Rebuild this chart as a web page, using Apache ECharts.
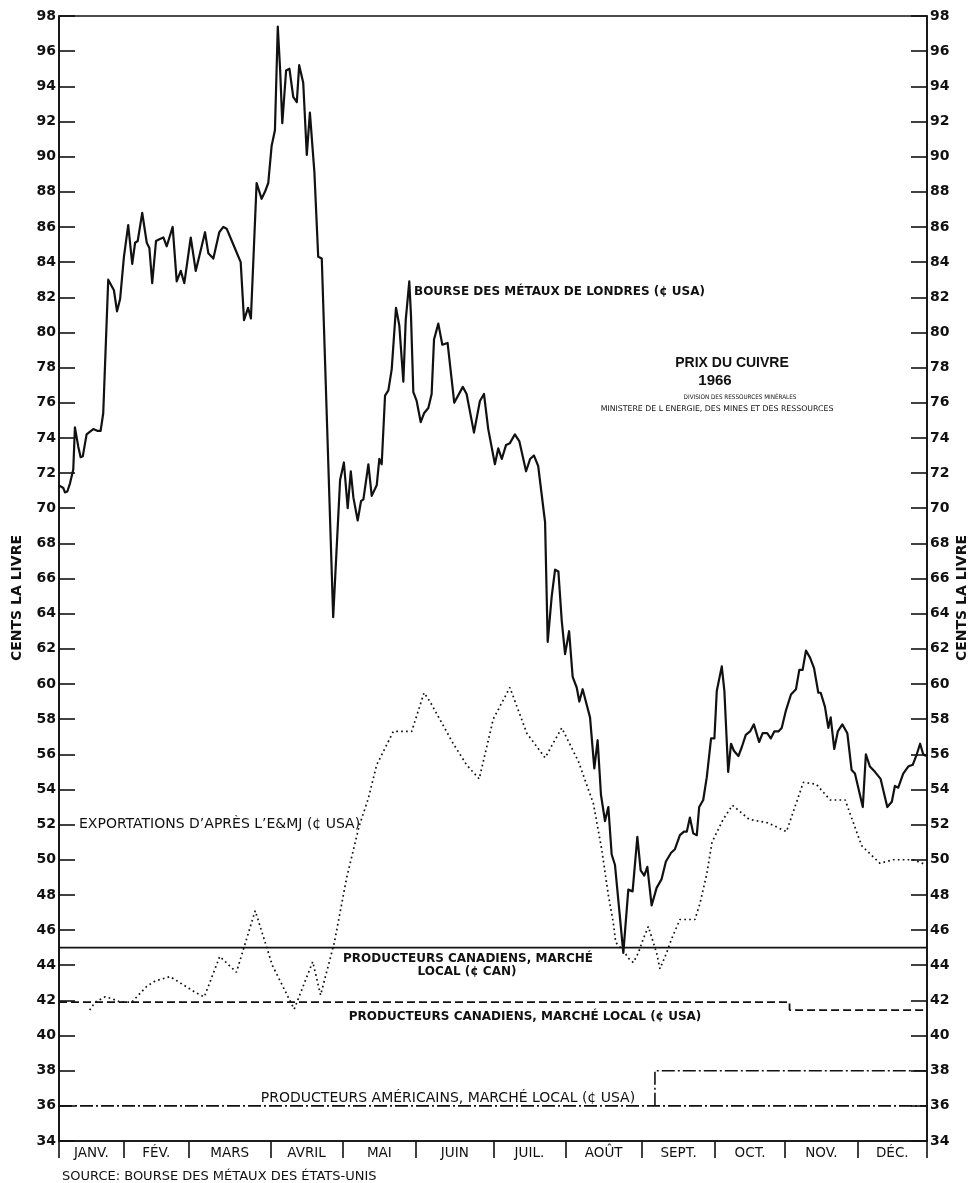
<!DOCTYPE html>
<html>
<head>
<meta charset="utf-8">
<title>Prix du cuivre 1966</title>
<script src="https://cdn.jsdelivr.net/npm/echarts@6/dist/echarts.min.js"></script>
<style>
  html, body { margin: 0; padding: 0; background: #fff; }
  #chart { width: 971px; height: 1183px; }
</style>
</head>
<body>
<div id="chart"></div>
<script>
// Month names and where each month division falls along the year (days)
const monthNames = ['JANV.', 'FÉV.', 'MARS', 'AVRIL', 'MAI', 'JUIN', 'JUIL.', 'AOÛT', 'SEPT.', 'OCT.', 'NOV.', 'DÉC.'];
const monthEdges = [0, 27.2, 54.6, 89.0, 119.2, 150.2, 182.7, 212.9, 245.2, 275.9, 305.3, 335.8, 365];

// Price axis (cents per pound)
const priceMin = 34;
const priceMax = 98;
const priceStep = 2;

// London Metal Exchange price, ¢ USA  [day, price]
const londonLme = [
  [0, 71.3], [1.8, 71.15], [2.5, 70.9], [3.5, 70.95], [4.6, 71.4], [6.0, 72.2], [6.7, 74.6], [8.1, 73.5],
  [9.1, 72.9], [10.0, 72.95], [11.6, 74.2], [14.4, 74.5], [16.1, 74.4], [17.5, 74.4], [18.6, 75.4],
  [20.7, 83.0], [23.1, 82.4], [24.4, 81.2], [25.7, 81.9], [27.3, 84.3], [29.1, 86.1], [30.8, 83.9],
  [32.0, 85.1], [33.1, 85.2], [35.0, 86.8], [36.9, 85.1], [38.0, 84.8], [39.2, 82.8], [40.8, 85.2],
  [42.2, 85.3], [43.9, 85.4], [45.3, 84.9], [47.8, 86.0], [49.5, 82.9], [51.2, 83.5], [52.7, 82.8],
  [55.4, 85.4], [57.5, 83.5], [59.3, 84.5], [61.4, 85.7], [62.8, 84.5], [64.9, 84.2], [67.4, 85.7],
  [69.1, 86.0], [70.5, 85.9], [73.3, 85.0], [76.4, 84.0], [77.8, 80.7], [79.5, 81.4], [80.7, 80.8],
  [83.1, 88.5], [85.2, 87.6], [86.6, 88.0], [88.0, 88.5], [89.4, 90.6], [90.8, 91.5], [92.0, 97.4],
  [93.0, 94.9], [93.9, 91.9], [95.5, 94.9], [96.9, 95.0], [98.5, 93.4], [100.0, 93.1], [101.0, 95.2],
  [102.7, 94.2], [104.2, 90.1], [105.5, 92.5], [107.4, 89.1], [109.0, 84.3], [110.5, 84.2],
  [115.3, 63.8], [118.2, 71.6], [119.8, 72.6], [121.4, 70.0], [122.7, 72.1], [123.8, 70.6],
  [125.6, 69.3], [127.0, 70.4], [128.0, 70.5], [130.1, 72.5], [131.5, 70.7], [133.6, 71.3],
  [134.7, 72.8], [135.7, 72.5], [137.1, 76.4], [138.5, 76.7], [139.9, 77.9], [141.7, 81.4],
  [143.1, 80.4], [144.8, 77.2], [145.8, 80.7], [147.3, 82.9], [148.0, 81.0], [149.0, 76.6],
  [150.4, 76.1], [152.1, 74.9], [153.5, 75.4], [155.3, 75.7], [156.7, 76.5], [157.7, 79.6],
  [159.5, 80.5], [161.2, 79.3], [163.4, 79.4], [166.2, 76.0], [169.8, 76.9], [171.4, 76.5],
  [174.5, 74.3], [177.0, 76.1], [178.7, 76.5], [180.5, 74.5], [183.3, 72.5], [184.7, 73.4],
  [186.2, 72.8], [188.0, 73.6], [189.6, 73.7], [191.7, 74.2], [193.6, 73.8], [196.4, 72.1],
  [198.1, 72.8], [199.7, 73.0], [201.5, 72.4], [204.4, 69.2], [205.5, 62.4], [207.2, 65.0],
  [208.6, 66.5], [210.0, 66.4], [211.4, 63.6], [212.8, 61.7], [214.5, 63.0], [216.0, 60.4],
  [217.7, 59.8], [218.8, 59.0], [220.2, 59.7], [223.3, 58.1], [225.1, 55.2], [226.5, 56.8],
  [227.9, 53.7], [229.6, 52.2], [231.0, 53.0], [232.4, 50.3], [233.8, 49.7], [237.3, 44.7],
  [239.4, 48.3], [241.2, 48.2], [243.2, 51.3], [244.6, 49.4], [246.1, 49.1], [247.4, 49.6],
  [249.2, 47.4], [251.3, 48.4], [253.4, 48.9], [255.2, 49.9], [257.4, 50.4], [259.0, 50.6],
  [261.1, 51.4], [262.8, 51.6], [264.0, 51.6], [265.3, 52.4], [266.7, 51.5], [268.2, 51.4],
  [269.2, 53.0], [270.9, 53.4], [272.4, 54.7], [274.2, 56.9], [275.6, 56.9], [276.6, 59.6],
  [278.7, 61.0], [279.8, 59.6], [281.4, 55.0], [282.6, 56.6], [283.8, 56.2], [285.7, 55.9],
  [287.1, 56.4], [288.8, 57.1], [290.6, 57.3], [292.2, 57.7], [294.4, 56.7], [295.9, 57.2],
  [297.8, 57.2], [299.3, 56.9], [300.8, 57.3], [302.5, 57.3], [303.9, 57.5], [305.7, 58.5],
  [307.8, 59.4], [309.9, 59.7], [311.3, 60.8], [312.7, 60.8], [314.1, 61.9], [315.8, 61.5],
  [317.5, 60.9], [319.3, 59.5], [320.3, 59.5], [322.1, 58.7], [323.5, 57.5], [324.5, 58.1],
  [326.0, 56.3], [327.5, 57.3], [329.4, 57.7], [331.5, 57.2], [333.3, 55.1], [334.7, 54.9],
  [338.0, 53.0], [339.3, 56.0], [341.0, 55.3], [343.1, 55.0], [345.5, 54.6], [348.3, 53.0],
  [350.2, 53.3], [351.5, 54.2], [352.9, 54.1], [355.0, 54.9], [357.1, 55.3], [359.0, 55.4],
  [360.7, 56.0], [362.1, 56.6], [363.4, 56.0], [364.6, 55.9]
];

// Exports according to E&MJ, ¢ USA  [day, price]
const exportsEmj = [
  [12.9, 41.45], [15.2, 41.9], [19.4, 42.2], [22.2, 42.1], [25.7, 41.9], [30.6, 41.9], [36.9, 42.8],
  [40.4, 43.1], [46.7, 43.35], [50.9, 43.0], [58.0, 42.4], [61.1, 42.2], [67.6, 44.5], [74.6, 43.6],
  [82.5, 47.1], [89.7, 44.0], [98.9, 41.5], [106.7, 44.2], [110.0, 42.3], [115.8, 45.3],
  [121.0, 49.0], [126.2, 51.9], [130.1, 53.5], [133.6, 55.4], [140.6, 57.3], [148.3, 57.3],
  [153.5, 59.5], [156.0, 59.0], [165.8, 56.6], [171.4, 55.4], [176.7, 54.6], [182.6, 58.0],
  [189.6, 59.8], [196.7, 57.2], [204.4, 55.8], [211.4, 57.5], [218.4, 55.6], [224.7, 53.2],
  [228.2, 50.6], [231.0, 48.0], [233.1, 46.4], [234.1, 45.3], [238.0, 44.7], [239.4, 44.4],
  [241.5, 44.15], [243.6, 44.7], [245.7, 45.5], [247.8, 46.2], [249.2, 45.6], [251.3, 44.7],
  [252.7, 43.8], [255.5, 44.7], [257.6, 45.5], [261.1, 46.6], [267.4, 46.6], [269.5, 47.5],
  [272.4, 49.2], [274.6, 51.0], [279.3, 52.3], [283.2, 53.1], [290.2, 52.3], [298.1, 52.1],
  [305.9, 51.6], [313.0, 54.4], [318.4, 54.3], [324.3, 53.4], [330.6, 53.4], [337.5, 50.8],
  [345.2, 49.8], [350.8, 50.0], [359.2, 50.0], [364.9, 49.7]
];

// Canadian producers, domestic market
const canadianCan = [[0, 45], [365, 45]];                                   // ¢ CAN
const canadianUsd = [[0, 41.9], [307.2, 41.9], [307.2, 41.45], [365, 41.45]]; // ¢ USA

// American producers, domestic market, ¢ USA
const americanLow = [[0, 36], [365, 36]];
const americanHigh = [[250.6, 36], [250.6, 38], [365, 38]];

const monthMids = monthNames.map((_, i) => (monthEdges[i] + monthEdges[i + 1]) / 2);

const INK = '#111';
const labelBold = 'bold 12px "DejaVu Sans"';
const labelPlain = '14px "DejaVu Sans"';

function monthFor(v) {
  let best = 0;
  for (let i = 1; i < monthMids.length; i++) {
    if (Math.abs(monthMids[i] - v) < Math.abs(monthMids[best] - v)) best = i;
  }
  return monthNames[best];
}

function priceAxis(position) {
  return {
    type: 'value',
    position: position,
    min: priceMin,
    max: priceMax,
    interval: priceStep,
    axisLine: { show: true, lineStyle: { color: INK, width: 1.6 } },
    axisTick: { show: true, inside: true, length: 16, lineStyle: { color: INK, width: 1.6 } },
    axisLabel: {
      color: INK, fontFamily: 'DejaVu Sans', fontWeight: 'bold', fontSize: 14, margin: 3
    },
    splitLine: { show: false }
  };
}

function flatLine(data, type, width) {
  return {
    type: 'line', data: data, symbol: 'none', silent: true,
    lineStyle: { color: INK, width: width, type: type }
  };
}

function note(x, y, text, font, align) {
  return {
    type: 'text', x: x, y: y,
    style: { text: text, font: font, fill: INK, textAlign: align || 'center', textVerticalAlign: 'middle' }
  };
}

const chart = echarts.init(document.getElementById('chart'), null, { renderer: 'canvas' });

chart.setOption({
  animation: false,
  backgroundColor: '#fff',
  grid: {
    left: 59, right: 44, top: 16, bottom: 42,
    show: true, borderColor: INK, borderWidth: 1.6
  },
  xAxis: {
    type: 'value',
    min: 0,
    max: 365,
    axisLine: { show: true, lineStyle: { color: INK, width: 1.6 } },
    axisTick: { show: true, customValues: monthEdges, length: 17, lineStyle: { color: INK, width: 1.6 } },
    axisLabel: {
      customValues: monthMids,
      formatter: monthFor,
      color: INK, fontFamily: 'DejaVu Sans', fontSize: 13.5, margin: 5
    },
    splitLine: { show: false }
  },
  yAxis: [priceAxis('left'), priceAxis('right')],
  series: [
    flatLine(canadianCan, 'solid', 1.7),
    flatLine(canadianUsd, [8, 4], 1.8),
    flatLine(americanLow, [13, 3, 2, 3], 1.6),
    flatLine(americanHigh, [13, 3, 2, 3], 1.6),
    {
      type: 'line', data: exportsEmj, symbol: 'none', silent: true,
      lineStyle: { color: INK, width: 1.7, type: [1.7, 3.2] }
    },
    {
      type: 'line', data: londonLme, symbol: 'none', silent: true, z: 5,
      lineStyle: { color: INK, width: 2.2, join: 'round' }
    }
  ],
  graphic: [
    note(414, 292, 'BOURSE DES MÉTAUX DE LONDRES (¢ USA)', labelBold, 'left'),
    note(732, 363, 'PRIX DU CUIVRE', 'bold 14px "Liberation Sans"'),
    note(715, 381, '1966', 'bold 15px "Liberation Sans"'),
    note(740, 397, 'DIVISION DES RESSOURCES MINÉRALES', '6.3px "DejaVu Sans Condensed"'),
    note(717, 409, 'MINISTERE DE L ENERGIE, DES MINES ET DES RESSOURCES', '7.8px "DejaVu Sans"'),
    note(79, 824, 'EXPORTATIONS D\u2019APRÈS L\u2019E&MJ (¢ USA)', labelPlain, 'left'),
    note(468, 959, 'PRODUCTEURS CANADIENS, MARCHÉ', labelBold),
    note(467, 972, 'LOCAL (¢ CAN)', labelBold),
    note(525, 1017, 'PRODUCTEURS CANADIENS, MARCHÉ LOCAL (¢ USA)', labelBold),
    note(448, 1098, 'PRODUCTEURS AMÉRICAINS, MARCHÉ LOCAL (¢ USA)', labelPlain),
    note(62, 1177, 'SOURCE: BOURSE DES MÉTAUX DES ÉTATS-UNIS', '13px "DejaVu Sans"', 'left'),
    Object.assign(note(17, 598, 'CENTS LA LIVRE', 'bold 14px "DejaVu Sans"'), { rotation: Math.PI / 2 }),
    Object.assign(note(962, 598, 'CENTS LA LIVRE', 'bold 14px "DejaVu Sans"'), { rotation: Math.PI / 2 })
  ]
});
</script>
</body>
</html>
